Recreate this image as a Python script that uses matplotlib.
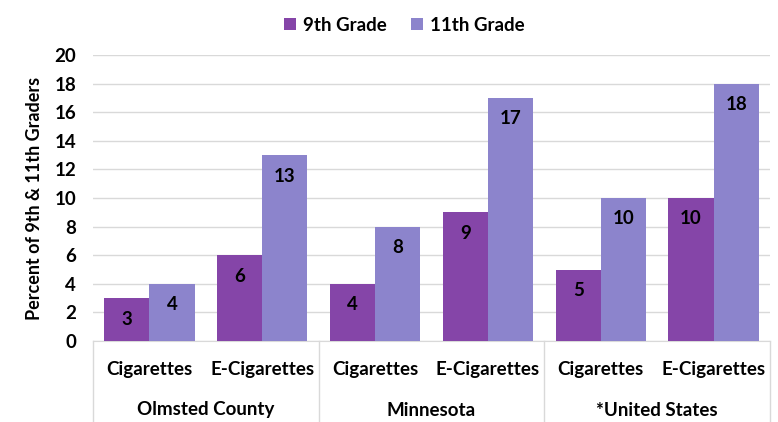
import matplotlib
matplotlib.use("Agg")
import matplotlib.pyplot as plt
import numpy as np

groups = ["Olmsted County", "Minnesota", "*United States"]
products = ["Cigarettes", "E-Cigarettes"]
series_names = ["9th Grade", "11th Grade"]
grade9 = [3, 6, 4, 9, 5, 10]
grade11 = [4, 13, 8, 17, 10, 18]
yticks = [0, 2, 4, 6, 8, 10, 12, 14, 16, 18, 20]

c9 = "#8545A8"
c11 = "#8C84CC"
plt.rcParams['font.family'] = ['Lato', 'DejaVu Sans']
plt.rcParams['font.weight'] = 'bold'
FS = 13.5

fig = plt.figure(figsize=(7.78, 4.22), dpi=100)
ax = fig.add_axes([93/778, 1-341/422, 677/778, 286/422])

n = len(grade9)
x = np.arange(n)
w = 0.4
b1 = ax.bar(x - w/2, grade9, w, color=c9, label=series_names[0], zorder=3)
b2 = ax.bar(x + w/2, grade11, w, color=c11, label=series_names[1], zorder=3)
for bars in (b1, b2):
    for r in bars:
        ax.annotate(f"{int(r.get_height())}", (r.get_x() + r.get_width()/2, r.get_height()),
                    xytext=(0, -21), textcoords="offset pixels",
                    ha="center", va="center", fontsize=FS, fontweight="bold", color="black", zorder=4)

ax.set_xlim(-0.5, n - 0.5)
ax.set_ylim(0, 20)
ax.set_yticks(yticks)
ax.set_yticklabels([str(t) for t in yticks], fontsize=FS, fontweight="bold")
ax.tick_params(axis="y", length=0, pad=12)
ax.yaxis.grid(True, color="#d9d9d9", linewidth=1, zorder=0)
ax.set_axisbelow(True)
for s in ["top", "right", "left"]:
    ax.spines[s].set_visible(False)
ax.spines["bottom"].set_color("#d9d9d9")
ax.set_xticks([])
ax.set_ylabel("Percent of 9th & 11th Graders", fontsize=13, fontweight="bold", labelpad=8)

# category labels
trans = ax.get_xaxis_transform()
for i in range(n):
    ax.text(i, -28/286, products[i % 2], transform=trans, ha="center", va="center",
            fontsize=FS, fontweight="bold")
for g, name in enumerate(groups):
    ax.text(2*g + 0.5, -69/286, name, transform=trans, ha="center", va="center",
            fontsize=FS, fontweight="bold")
for k in range(len(groups) + 1):
    ax.plot([2*k - 0.5, 2*k - 0.5], [0, -80/286], transform=trans, color="#d9d9d9",
            linewidth=1, clip_on=False)

leg = fig.legend(handles=[b1, b2], labels=series_names, loc="upper center",
                 bbox_to_anchor=(0.52, 1.0), ncol=2, frameon=False,
                 handlelength=0.6, handleheight=0.6, handletextpad=0.4, columnspacing=1.3,
                 prop={'weight': 'bold', 'size': FS})

fig.savefig("out.png", dpi=100)
